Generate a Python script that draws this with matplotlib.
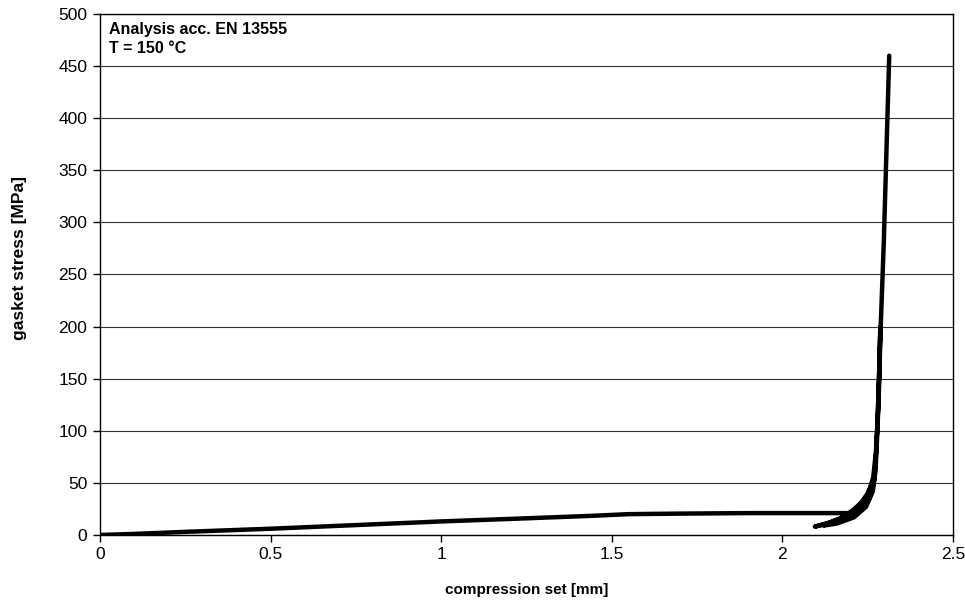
import matplotlib.pyplot as plt
import numpy as np

plt.rcParams['font.family'] = ['Liberation Sans', 'DejaVu Sans']

# loading path (compression set [mm], gasket stress [MPa])
load_x = [0.0, 0.1, 0.25, 0.5, 0.75, 1.0, 1.25, 1.45, 1.55, 1.7, 1.9, 2.05, 2.15, 2.2]
load_y = [0.0, 1.0, 3.0, 6.0, 9.5, 13.0, 16.0, 18.5, 20.0, 20.5, 21.0, 21.0, 21.0, 21.0]

# unload / reload loops near the plateau
loop_x = [2.17, 2.13, 2.095, 2.14, 2.19, 2.225, 2.245,
          2.21, 2.17, 2.13, 2.18, 2.225, 2.255, 2.262,
          2.235, 2.2, 2.16, 2.2, 2.24, 2.262, 2.27,
          2.25, 2.22, 2.17, 2.12, 2.16, 2.21, 2.245, 2.265, 2.272]
loop_y = [16.0, 11.0, 8.0, 12.0, 18.0, 24.0, 30.0,
          22.0, 15.0, 10.0, 15.0, 24.0, 35.0, 42.0,
          32.0, 22.0, 13.0, 18.0, 28.0, 42.0, 55.0,
          40.0, 26.0, 16.0, 9.0, 11.0, 17.0, 27.0, 42.0, 60.0]

# first part of the steep rise, with one unload / reload cycle
mid_x = [2.274, 2.276, 2.279, 2.283, 2.287,
         2.283, 2.279, 2.274, 2.266, 2.25, 2.22, 2.18,
         2.22, 2.255, 2.27, 2.277, 2.282, 2.288]
mid_y = [70.0, 90.0, 110.0, 150.0, 200.0,
         150.0, 110.0, 80.0, 55.0, 38.0, 25.0, 16.0,
         22.0, 35.0, 55.0, 90.0, 130.0, 200.0]

# rest of the rise up to the maximum stress
rise_x = [2.297, 2.305, 2.313]
rise_y = [280.0, 370.0, 460.0]

x = load_x + loop_x + mid_x + rise_x
y = load_y + loop_y + mid_y + rise_y

fig = plt.figure(figsize=(9.65, 6.06), dpi=100)
ax = fig.add_axes([0.1036, 0.1172, 0.8840, 0.8597])

ax.plot(x, y, color='black', linewidth=3.2, solid_capstyle='round',
        solid_joinstyle='round')

ax.set_xlim(0, 2.5)
ax.set_ylim(0, 500)
ax.set_xticks([0, 0.5, 1, 1.5, 2, 2.5])
ax.set_xticklabels(['0', '0.5', '1', '1.5', '2', '2.5'])
ax.set_yticks(np.arange(0, 501, 50))
ax.grid(axis='y', color='#333333', linewidth=0.8)
ax.set_axisbelow(True)
ax.tick_params(direction='out', length=5, width=1, labelsize=12.5, pad=4)
for s in ax.spines.values():
    s.set_linewidth(1.0)

ax.set_xlabel('compression set [mm]', fontsize=11, fontweight='bold', labelpad=15)
ax.set_ylabel('gasket stress [MPa]', fontsize=12.5, fontweight='bold')
ax.yaxis.set_label_coords(-0.086, 0.532)

ax.text(0.010, 0.984, 'Analysis acc. EN 13555\nT = 150 °C', transform=ax.transAxes,
        ha='left', va='top', fontsize=11.5, fontweight='bold', linespacing=1.3)

fig.savefig('out.png', dpi=100)
